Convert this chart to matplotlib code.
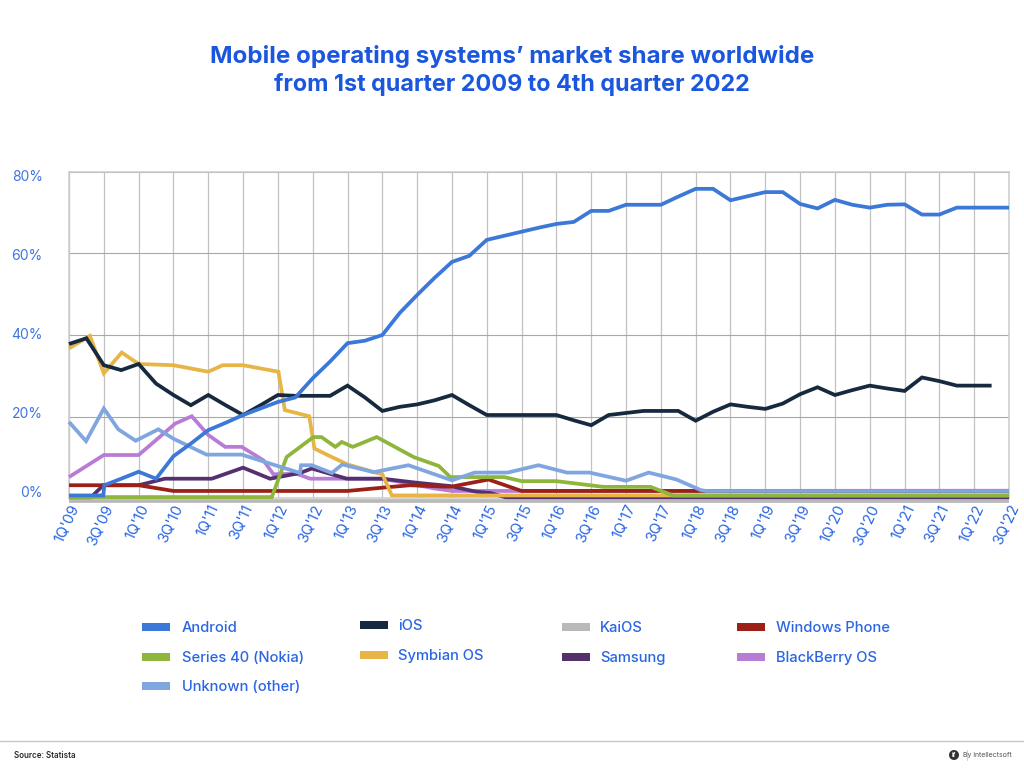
import matplotlib
matplotlib.use("Agg")
import matplotlib.pyplot as plt
from matplotlib.patches import Rectangle, Circle
from matplotlib.lines import Line2D
from matplotlib.transforms import ScaledTranslation

W, H = 1024, 770
BLUE = "#2a66e3"
TITLE = "#1b57de"
FONT = ["Inter", "DejaVu Sans"]
plt.rcParams["font.family"] = FONT

tick_labels = [f"{q}Q'{y:02d}" for y in range(9, 23) for q in (1, 3)]
y_ticks = [0, 20, 40, 60, 80]

# quarter index (0 = 1Q'09) and share (%) for each series
android_q = list(range(2)) + [1.97, 2.03] + list(range(3, 55))
android_v = [0.7, 0.7, 0.7, 3.2, 4.8, 6.5, 4.8, 10.3, 13.4, 16.7, 18.5, 20.4, 22, 23.6, 24.7, 29.4, 33.5, 38,
             38.6, 40, 45.4, 49.8, 54, 57.9, 59.4, 63.3, 64.3, 65.3, 66.3, 67.2, 67.7, 70.4, 70.4, 71.9, 71.9,
             71.9, 73.9, 75.8, 75.8, 73, 74, 75, 75, 72.1, 71, 73.1, 71.9, 71.2, 71.9, 72, 69.5, 69.5, 71.2,
             71.2, 71.2, 71.2]
ios_q = list(range(54))
ios_v = [37.8, 39.2, 32.6, 31.4, 32.9, 28.1, 25.3, 22.8, 25.3, 22.8, 20.4, 22.8, 25.3, 25.1, 25.1, 25.1, 27.6,
         24.7, 21.4, 22.4, 23, 24, 25.3, 22.8, 20.4, 20.4, 20.4, 20.4, 20.4, 19.1, 17.9, 20.4, 20.9, 21.4,
         21.4, 21.4, 19, 21.2, 23, 22.4, 21.9, 23.2, 25.5, 27.2, 25.3, 26.5, 27.6, 26.9, 26.3, 29.6, 28.7,
         27.6, 27.6, 27.6]
symbian_q = [0, 1.2, 2, 3.03, 4, 6, 8, 8.83, 10, 12.03, 12.4, 13.8, 14.1, 15, 16, 17.7, 18, 18.55, 54]
symbian_v = [36.7, 39.8, 30.6, 35.7, 32.9, 32.6, 31, 32.6, 32.6, 31, 21.6, 20.1, 12.2, 10.3, 8.3, 6.2, 5.9, 0.7, 0.7]
unknown_q = [0, 0.98, 2, 2.83, 3.83, 5.13, 6, 7.9, 9.92, 11.55, 13.27, 13.33, 13.95, 15.1, 15.7, 17.5, 19.5, 22,
             23.3, 25.2, 26.97, 28.6, 29.9, 32, 33.3, 34.9, 36.3, 36.6, 54]
unknown_v = [18.7, 14, 22, 16.9, 14.1, 16.9, 14.6, 10.7, 10.7, 8.5, 6.2, 8.1, 8.1, 6.2, 8.3, 6.4, 8.1, 4.4,
             6.3, 6.3, 8.1, 6.3, 6.3, 4.3, 6.3, 4.6, 2, 1.8, 1.8]
blackberry_q = [0, 2, 4, 6.1, 7.05, 8, 8.97, 9.92, 11.17, 11.74, 13.08, 13.85, 15.96, 18, 19.8, 21, 22, 26, 54]
blackberry_v = [5.2, 10.6, 10.6, 18.3, 20.1, 15.5, 12.6, 12.6, 9.3, 5.9, 6, 4.8, 4.8, 4.8, 3.4, 2.4, 1.8, 1.8, 1.85]
samsung_q = [0, 1.2, 1.97, 4, 5.5, 8.2, 10, 11.55, 13.27, 13.95, 15.96, 18, 20, 21.9, 23.4, 24.2, 25.2, 54]
samsung_v = [0, 0, 3.2, 3.2, 4.8, 4.8, 7.5, 4.8, 6.2, 7.3, 4.8, 4.8, 3.8, 3, 1.6, 1.3, 0.1, 0.1]
windows_q = [0, 4, 6, 16, 18, 19.6, 21.9, 24.1, 26, 54]
windows_v = [3.2, 3.2, 1.8, 1.8, 2.6, 3.2, 2.8, 4.6, 1.8, 1.8]
series40_q = [0, 11.65, 12.5, 14.04, 14.5, 15.3, 15.67, 16.3, 17.68, 19.8, 21.25, 21.9, 25, 26, 28, 30.7, 33.4, 34.7, 54]
series40_v = [0.3, 0.3, 10.1, 15, 15, 12.6, 13.8, 12.6, 15, 10.1, 7.9, 5.2, 5.2, 4.2, 4.2, 2.8, 2.8, 0.7, 0.7]
kaios_q = [0, 54]
kaios_v = [-0.75, -0.75]

C_ANDROID = "#3b78d8"
C_IOS = "#16293f"
C_SYMBIAN = "#e6b546"
C_UNKNOWN = "#80a6e0"
C_BLACKBERRY = "#b97cd6"
C_SAMSUNG = "#54306f"
C_WINDOWS = "#9a2018"
C_SERIES40 = "#8fb63c"
C_KAIOS = "#b9b9b9"

fig = plt.figure(figsize=(W / 100, H / 100), dpi=100, facecolor="white")
L, R, T, B = 69, 1009, 171.7, 498.3
ax = fig.add_axes([L / W, 1 - B / H, (R - L) / W, (B - T) / H])
ax.set_xlim(0, 54)
ax.set_ylim(0, 80)

ax.set_axisbelow(True)
ax.grid(axis="x", color="#c2c2c2", lw=0.9)
ax.grid(axis="y", color="#a8a8a8", lw=0.8)
for s in ax.spines.values():
    s.set_color("#cccccc")
    s.set_linewidth(1.1)

series = [
    (blackberry_q, blackberry_v, C_BLACKBERRY),
    (samsung_q, samsung_v, C_SAMSUNG),
    (kaios_q, kaios_v, C_KAIOS),
    (windows_q, windows_v, C_WINDOWS),
    (symbian_q, symbian_v, C_SYMBIAN),
    (series40_q, series40_v, C_SERIES40),
    (unknown_q, unknown_v, C_UNKNOWN),
    (ios_q, ios_v, C_IOS),
    (android_q, android_v, C_ANDROID),
]
for q, v, c in series:
    ax.plot(q, v, color=c, lw=2.7, clip_on=False, solid_joinstyle="miter", solid_capstyle="butt", zorder=3)

ax.set_xticks(range(0, 55, 2))
ax.set_xticklabels(tick_labels, rotation=65, ha="right", va="top", rotation_mode="anchor",
                   fontsize=10.6, color=BLUE)
ax.set_yticks(y_ticks)
ax.set_yticklabels([f"{t}%" for t in y_ticks], fontsize=10, color="#3f74e4")
ax.tick_params(axis="x", length=0, pad=3)
ax.tick_params(axis="y", length=0, pad=19)
for lab, t in zip(ax.get_yticklabels(), y_ticks):
    lab.set_transform(lab.get_transform() + ScaledTranslation(0, (7 - 10.5 * t / 80) / 100, fig.dpi_scale_trans))

fig.text(512 / W, 1 - 56 / H, "Mobile operating systems’ market share worldwide", ha="center", va="center",
         fontsize=17.4, fontweight="bold", color=TITLE)
fig.text(512 / W, 1 - 85 / H, "from 1st quarter 2009 to 4th quarter 2022", ha="center", va="center",
         fontsize=16.8, fontweight="bold", color=TITLE)

legend_names = ["Android", "Series 40 (Nokia)", "Unknown (other)", "iOS", "Symbian OS", "KaiOS", "Samsung",
                "Windows Phone", "BlackBerry OS"]
legend_colors = [C_ANDROID, C_SERIES40, C_UNKNOWN, C_IOS, C_SYMBIAN, C_KAIOS, C_SAMSUNG, C_WINDOWS, C_BLACKBERRY]
legend_pos = [(142, 627), (142, 657), (142, 686), (360, 625), (360, 655), (562, 627), (562, 657), (737, 627), (737, 657)]
legend_gap = [40, 40, 40, 38, 38, 38, 38, 39, 39]
for name, col, (x, y), gap in zip(legend_names, legend_colors, legend_pos, legend_gap):
    fig.patches.append(Rectangle((x / W, 1 - (y + 4) / H), 28 / W, 8 / H, transform=fig.transFigure,
                                 facecolor=col, edgecolor="none"))
    fig.text((x + gap) / W, 1 - (y + 1) / H, name, ha="left", va="center", fontsize=10.6, color=BLUE,
             fontweight="medium")

fig.add_artist(Line2D([0, 1], [1 - 740.5 / H] * 2, color="#c8c8c8", lw=1))
fig.text(14 / W, 1 - 755 / H, "Source: Statista", ha="left", va="center", fontsize=5.8, fontweight="semibold", color="#2b2b2b")
fig.text(1012 / W, 1 - 755 / H, "By intellectsoft", ha="right", va="center", fontsize=5, color="#555555")
fig.add_artist(Line2D([967 / W] * 2, [1 - 750 / H, 1 - 760 / H], color="#d0d0d0", lw=0.7))
fig.patches.append(Circle((954, H - 755), 5, transform=None, facecolor="#333333", edgecolor="none"))
fig.text(954 / W, 1 - 755 / H, "if", ha="center", va="center", fontsize=4.5, fontweight="bold", color="white")

fig.savefig("out.png", dpi=100, facecolor="white")
